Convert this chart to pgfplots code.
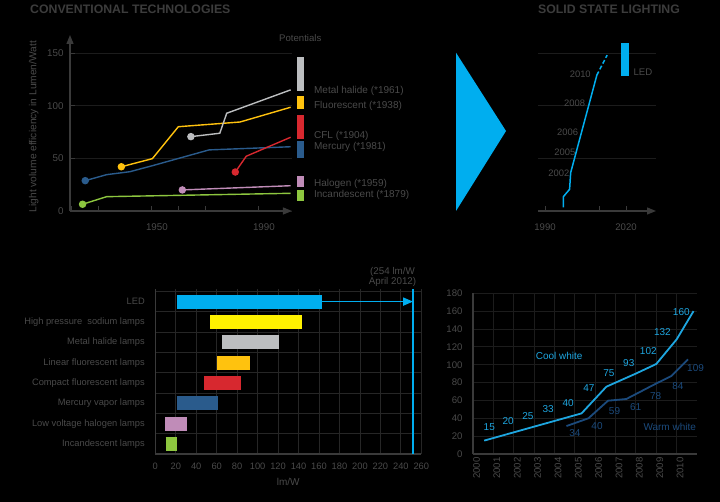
\documentclass[border=0pt]{standalone}
\usepackage{fontspec}
\setmainfont{Liberation Sans}
\usepackage{pgfplots}
\pgfplotsset{compat=1.18}
\usetikzlibrary{arrows.meta}
\definecolor{txt}{HTML}{4A4A4A}
\definecolor{ttl}{HTML}{3C3C3C}
\definecolor{axgray}{HTML}{3A3A3A}
\definecolor{gridc}{HTML}{1C1C1C}
\definecolor{gridd}{HTML}{262626}
\definecolor{cgreen}{HTML}{8DC63F}
\definecolor{cpink}{HTML}{C08CB8}
\definecolor{cblue}{HTML}{2A5B8C}
\definecolor{cyellow}{HTML}{FFC20E}
\definecolor{cgray}{HTML}{BCBEC0}
\definecolor{cred}{HTML}{D7282F}
\definecolor{ledblue}{HTML}{00AEEF}
\definecolor{hps}{HTML}{FFF200}
\definecolor{cool}{HTML}{1EA6E0}
\definecolor{warm}{HTML}{1B4A7C}
\newcommand{\fs}[1]{\fontsize{#1}{#1}\selectfont}
\pgfplotsset{every axis/.append style={scale only axis, anchor=south west,
  /pgf/number format/assume math mode=true, /pgf/number format/1000 sep={}}}
\begin{document}
\begin{tikzpicture}[x=1pt,y=1pt]
\useasboundingbox (0,0) rectangle (720,502);
\fill[black] (0,0) rectangle (720,502);

% titles
\node[anchor=west, inner sep=0, text=ttl, font=\fs{12.3}\bfseries] at (30,493) {CONVENTIONAL TECHNOLOGIES};
\node[anchor=west, inner sep=0, text=ttl, font=\fs{12.3}\bfseries] at (538,493) {SOLID STATE LIGHTING};
\node[rotate=90, text=txt, font=\fs{10.2}, inner sep=0] at (33.7,375.5) {Light volume efficiency in Lumen/Watt};

% big arrow triangle
\fill[ledblue] (456,449.3) -- (456,291) -- (506,371) -- cycle;

% ---------------- Panel A: conventional technologies
\begin{axis}[at={(70pt,291pt)}, width=222pt, height=176pt,
  xmin=1917.5, xmax=2000.5, ymin=0, ymax=167.1, clip=false,
  axis lines=left,
  axis line style={draw=axgray, line width=1.2pt},
  x axis line style={-{Triangle[length=9pt,width=7pt]}},
  y axis line style={-{Triangle[length=9pt,width=7pt]}},
  xtick={1918,1928,1948,1958,1968,1988}, xticklabels={},
  extra x ticks={1950,1990}, extra x tick labels={1950,1990},
  extra x tick style={major tick length=0pt, xticklabel style={yshift=-9pt}},
  ytick={0,50,100,150}, ymajorgrids, grid style={gridc, line width=0.8pt},
  tick align=inside, major tick length=5pt, tick style={axgray, line width=1pt},
  tick label style={font=\fs{9.8}, color=txt},
  yticklabel style={xshift=-3pt},
]
\addplot[cgreen, line width=1.4pt, mark=*, mark size=3pt, mark indices={1}] coordinates {(1922.2,6.4)(1931.2,13.6)(2000,16.8)};
\addplot[cpink, line width=1.4pt, mark=*, mark size=3pt, mark indices={1}] coordinates {(1959.5,20)(2000,24)};
\addplot[cblue, line width=1.4pt, mark=*, mark size=3pt, mark indices={1}] coordinates {(1923.2,28.8)(1931.2,34.5)(1939.9,37.3)(1948.3,43)(1969.5,58)(2000,61)};
\addplot[cyellow, line width=1.4pt, mark=*, mark size=3pt, mark indices={1}] coordinates {(1936.7,42)(1948.3,49.7)(1958,80)(1981.1,84.5)(2000,98.5)};
\addplot[cgray, line width=1.4pt, mark=*, mark size=3pt, mark indices={1}] coordinates {(1962.7,70.6)(1973.5,73.8)(1976.1,92.8)(2000,115)};
\addplot[cred, line width=1.4pt, mark=*, mark size=3pt, mark indices={1}] coordinates {(1979.3,37)(1983.4,52)(2000,70)};
% potentials
\addplot[cgray, line width=7.5pt] coordinates {(2003.67,114)(2003.67,146)};
\addplot[cyellow, line width=7.5pt] coordinates {(2003.67,96.9)(2003.67,109.2)};
\addplot[cred, line width=7.5pt] coordinates {(2003.67,68.4)(2003.67,91.2)};
\addplot[cblue, line width=7.5pt] coordinates {(2003.67,50.3)(2003.67,66.5)};
\addplot[cpink, line width=7.5pt] coordinates {(2003.67,22.8)(2003.67,33.2)};
\addplot[cgreen, line width=7.5pt] coordinates {(2003.67,9.5)(2003.67,19.9)};
\node[text=txt, font=\fs{9.6}, inner sep=0] at (axis cs:2003.6,164) {Potentials};
\node[anchor=west, text=txt, font=\fs{10}, inner sep=0] at (axis cs:2008.7,114.2) {Metal halide (*1961)};
\node[anchor=west, text=txt, font=\fs{10}, inner sep=0] at (axis cs:2008.7,99.4) {Fluorescent (*1938)};
\node[anchor=west, text=txt, font=\fs{10}, inner sep=0] at (axis cs:2008.7,71.5) {CFL (*1904)};
\node[anchor=west, text=txt, font=\fs{10}, inner sep=0] at (axis cs:2008.7,60.5) {Mercury (*1981)};
\node[anchor=west, text=txt, font=\fs{10}, inner sep=0] at (axis cs:2008.7,25.4) {Halogen (*1959)};
\node[anchor=west, text=txt, font=\fs{10}, inner sep=0] at (axis cs:2008.7,15.2) {Incandescent (*1879)};
\end{axis}

% ---------------- Panel C: solid state lighting
\begin{axis}[at={(538pt,291pt)}, width=118pt, height=176pt,
  xmin=1987.4, xmax=2031.1, ymin=0, ymax=167.1, clip=false,
  axis lines=left,
  axis line style={draw=axgray, line width=1.2pt},
  x axis line style={-{Triangle[length=9pt,width=7pt]}},
  y axis line style={draw=none},
  xtick={1990,2010,2020}, xticklabels={1990,,2020},
  xticklabel style={yshift=-9pt},
  ytick={50,100,150}, yticklabels={}, ymajorgrids, grid style={gridc, line width=0.8pt},
  every y tick/.style={draw=none},
  tick align=inside, major tick length=5pt, tick style={axgray, line width=1pt},
  tick label style={font=\fs{9.6}, color=txt},
]
\addplot[ledblue, line width=1.5pt] coordinates {(1996.8,3.5)(1996.8,13.6)(1999.1,20.6)(1999.5,36.4)(2009.2,129)};
\addplot[ledblue, line width=1.5pt, dash pattern=on 4pt off 2.5pt] coordinates {(2009.2,129)(2013.0,148)};
\addplot[ledblue, line width=7.8pt] coordinates {(2019.6,128.5)(2019.6,159.8)};
\node[anchor=west, text=txt, font=\fs{9.6}, inner sep=0] at (axis cs:2022.7,131.3) {LED};
\node[anchor=east, text=txt, font=\fs{9.4}, inner sep=0] at (axis cs:2007.0,129.8) {2010};
\node[anchor=east, text=txt, font=\fs{9.4}, inner sep=0] at (axis cs:2004.9,102.6) {2008};
\node[anchor=east, text=txt, font=\fs{9.4}, inner sep=0] at (axis cs:2002.3,74.4) {2006};
\node[anchor=east, text=txt, font=\fs{9.4}, inner sep=0] at (axis cs:2001.3,56.0) {2005};
\node[anchor=east, text=txt, font=\fs{9.4}, inner sep=0] at (axis cs:1999.1,35.6) {2002};
\end{axis}

% ---------------- Panel D: efficiency ranges
\begin{axis}[at={(155.3pt,47.9pt)}, width=266pt, height=164.7pt,
  xmin=0, xmax=260, ymin=-0.5, ymax=7.6, clip=false,
  xtick={0,20,...,260}, ytick={0,...,7},
  yticklabels={Incandescent lamps, Low voltage halogen lamps, Mercury vapor lamps, Compact fluorescent lamps, Linear fluorescent lamps, Metal halide lamps, {High pressure\ \ sodium lamps}, LED},
  minor ytick={-0.5,0.5,...,7.5}, yminorgrids, xmajorgrids,
  grid style={gridd, line width=0.8pt}, minor grid style={gridd, line width=0.8pt},
  axis x line*=bottom, axis y line*=left,
  axis line style={draw=axgray, line width=1.5pt, -},
  major tick length=0pt, minor tick length=0pt,
  tick label style={font=\fs{9.3}, color=txt},
  yticklabel style={xshift=-7pt},
  xticklabel style={yshift=-5pt},
  xlabel={lm/W}, xlabel style={font=\fs{10}, color=txt, yshift=-2pt},
]
\addplot[ledblue, line width=14pt] coordinates {(21,7)(163.2,7)};
\addplot[hps, line width=14pt] coordinates {(53.5,6)(143.1,6)};
\addplot[cgray, line width=14pt] coordinates {(65,5)(120.6,5)};
\addplot[cyellow, line width=14pt] coordinates {(60.6,4)(92.6,4)};
\addplot[cred, line width=14pt] coordinates {(48,3)(84,3)};
\addplot[cblue, line width=14pt] coordinates {(21,2)(61,2)};
\addplot[cpink, line width=14pt] coordinates {(9.5,1)(31,1)};
\addplot[cgreen, line width=14pt] coordinates {(10,0)(21,0)};
\addplot[ledblue, line width=1.6pt, -{Triangle[length=10pt,width=8pt]}] coordinates {(163.2,7)(252,7)};
\addplot[ledblue, line width=1.7pt] coordinates {(252.2,-0.5)(252.2,7.6)};
\end{axis}
\node[text=txt, font=\fs{9.8}, align=center, inner sep=0] at (392.5,225) {(254 lm/W\\April 2012)};

% ---------------- Panel E: cool / warm white
\begin{axis}[at={(473pt,48pt)}, width=224pt, height=160.7pt,
  xmin=2000, xmax=2011, ymin=0, ymax=180, clip=false,
  xtick={2000,...,2010}, ytick={0,20,...,180},
  grid=major, grid style={gridc, line width=0.8pt},
  axis x line*=bottom, axis y line*=left,
  axis line style={draw=axgray, line width=1.5pt, -},
  major tick length=0pt,
  tick label style={font=\fs{9.6}, color=txt},
  yticklabel style={xshift=-7pt},
  xticklabel style={rotate=90, anchor=east, yshift=-3.5pt},
]
\addplot[cool, line width=1.8pt] coordinates {(2000.55,15)(2005.33,45.5)(2006.55,75.4)(2008.02,90.3)(2009.0,100.8)(2010.0,128.4)(2010.83,160)};
\addplot[warm, line width=1.8pt] coordinates {(2004.59,31.3)(2005.67,40)(2006.63,59.7)(2007.53,61.6)(2009.0,79)(2009.74,87.3)(2010.56,106)};
\begin{scope}[every node/.style={font=\fs{10}, inner sep=0}]
\node[text=cool] at (axis cs:2000.8,30.6) {15};
\node[text=cool] at (axis cs:2001.73,37.3) {20};
\node[text=cool] at (axis cs:2002.7,42.6) {25};
\node[text=cool] at (axis cs:2003.69,50) {33};
\node[text=cool] at (axis cs:2004.67,57.4) {40};
\node[text=cool] at (axis cs:2005.69,73.6) {47};
\node[text=cool] at (axis cs:2006.67,91) {75};
\node[text=cool] at (axis cs:2007.65,102.2) {93};
\node[text=cool] at (axis cs:2008.61,115) {102};
\node[text=cool] at (axis cs:2009.3,137) {132};
\node[text=cool] at (axis cs:2010.23,159.3) {160};
\node[text=cool] at (axis cs:2004.23,110) {Cool white};
\node[text=warm] at (axis cs:2005.0,23.2) {34};
\node[text=warm] at (axis cs:2006.09,31.7) {40};
\node[text=warm] at (axis cs:2006.95,48.5) {59};
\node[text=warm] at (axis cs:2007.99,53) {61};
\node[text=warm] at (axis cs:2008.97,65) {78};
\node[text=warm] at (axis cs:2010.06,76.1) {84};
\node[text=warm] at (axis cs:2010.93,96.6) {109};
\node[text=warm] at (axis cs:2009.66,29.9) {Warm white};
\end{scope}
\end{axis}
\end{tikzpicture}
\end{document}
